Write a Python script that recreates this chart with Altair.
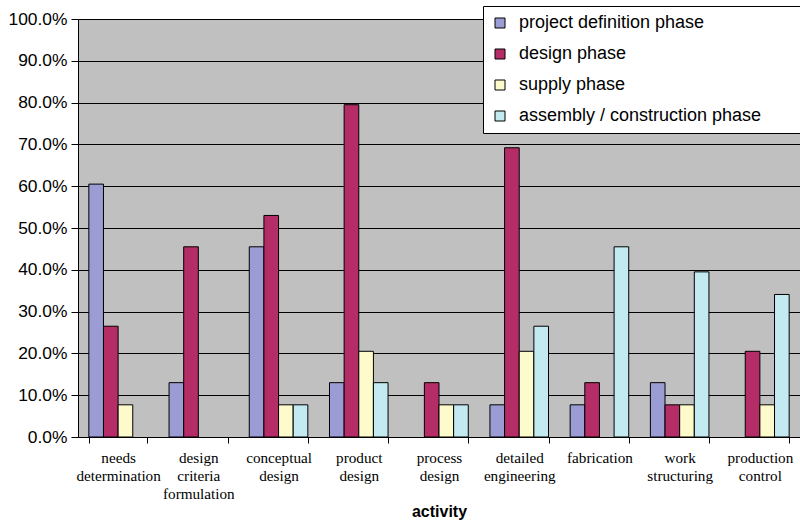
import altair as alt
import pandas as pd

# Activities (x categories) and share of respondents per project phase
activities = [
    "needs determination",
    "design criteria formulation",
    "conceptual design",
    "product design",
    "process design",
    "detailed engineering",
    "fabrication",
    "work structuring",
    "production control",
]
phases = [
    "project definition phase",
    "design phase",
    "supply phase",
    "assembly / construction phase",
]
project_definition = [0.605, 0.130, 0.455, 0.130, 0.000, 0.077, 0.077, 0.130, 0.000]
design = [0.265, 0.455, 0.530, 0.795, 0.130, 0.692, 0.130, 0.077, 0.205]
supply = [0.077, 0.000, 0.077, 0.205, 0.077, 0.205, 0.000, 0.077, 0.077]
assembly = [0.000, 0.000, 0.077, 0.130, 0.077, 0.265, 0.455, 0.395, 0.341]

phase_colors = ["#9c9cd4", "#b52d66", "#fdfbcc", "#c2eaf0"]

series = [project_definition, design, supply, assembly]
rows = []
for phase, values in zip(phases, series):
    for act, v in zip(activities, values):
        rows.append({"activity": act, "phase": phase, "share": v})
df = pd.DataFrame(rows)

bars = (
    alt.Chart(df)
    .transform_filter("datum.share > 0")
    .mark_bar(stroke="black", strokeWidth=1, opacity=1)
    .encode(
        x=alt.X(
            "activity:N",
            sort=activities,
            title="activity",
            scale=alt.Scale(domain=activities, paddingInner=0.27, paddingOuter=0.135),
            axis=alt.Axis(
                labelAngle=0,
                labelExpr="split(datum.label, ' ')",
                labelFont="Liberation Serif",
                labelFontSize=15.2,
                labelLineHeight=18.3,
                labelColor="black",
                labelPadding=7,
                labelBaseline="top",
                labelLimit=200,
                tickBand="extent",
                tickSize=6,
                tickColor="black",
                domainColor="black",
                grid=False,
                titleFont="Liberation Sans",
                titleFontSize=16,
                titleFontWeight="bold",
                titleColor="black",
                titlePadding=2,
            ),
        ),
        xOffset=alt.XOffset(
            "phase:N",
            sort=phases,
            scale=alt.Scale(domain=phases, paddingInner=0, paddingOuter=0),
        ),
        y=alt.Y(
            "share:Q",
            scale=alt.Scale(domain=[0, 1], nice=False),
            axis=alt.Axis(
                format=".1%",
                values=[i / 10 for i in range(11)],
                title=None,
                labelFont="Liberation Sans",
                labelFontSize=17.4,
                labelColor="black",
                labelPadding=4,
                tickSize=7,
                tickColor="black",
                domainColor="black",
                gridColor="black",
                gridOpacity=1,
                gridWidth=1,
            ),
        ),
        color=alt.Color(
            "phase:N",
            sort=phases,
            scale=alt.Scale(domain=phases, range=phase_colors),
            legend=alt.Legend(
                title=" ",
                titleOrient="right",
                titlePadding=40,
                orient="none",
                legendX=405,
                legendY=-13,
                fillColor="white",
                strokeColor="black",
                padding=8,
                symbolType="square",
                symbolSize=100,
                symbolStrokeColor="black",
                symbolStrokeWidth=1,
                symbolOpacity=1,
                labelFont="Liberation Sans",
                labelFontSize=18,
                labelColor="black",
                labelOffset=10,
                labelLimit=400,
                rowPadding=13,
            ),
        ),
    )
)

chart = (
    bars.properties(
        width=722,
        height=418,
        padding={"left": 78, "top": 19, "right": 0, "bottom": 90},
        autosize=alt.AutoSizeParams(type="none"),
        background="white",
    )
    .configure_view(fill="#c0c0c0", stroke=None)
)

chart.save("out.html", embed_options={"renderer": "svg", "actions": False})
